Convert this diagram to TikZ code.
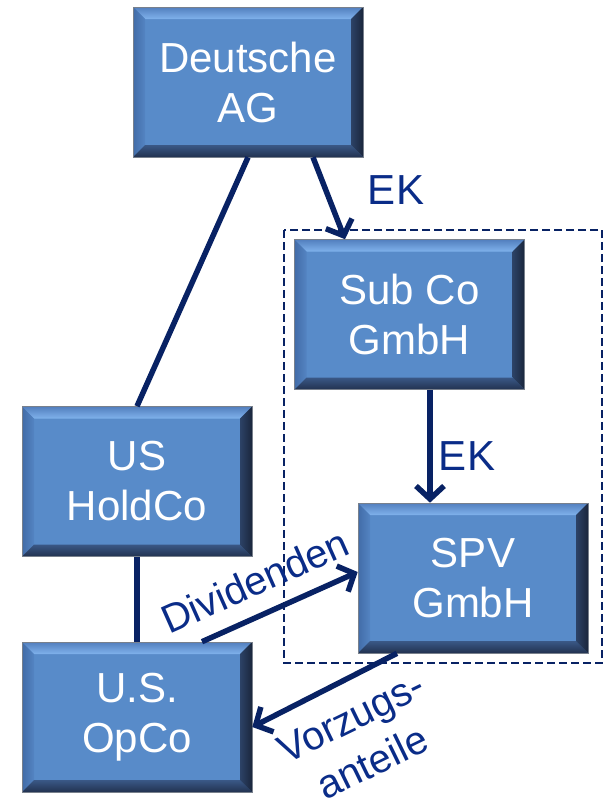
\documentclass[tikz,border=0pt]{standalone}
\usepackage{fontspec}
\setmainfont{Liberation Sans}
\usetikzlibrary{arrows.meta,calc}

\definecolor{face}{RGB}{88,139,201}
\definecolor{topout}{RGB}{82,127,190}
\definecolor{topin}{RGB}{128,178,236}
\definecolor{leftout}{RGB}{66,108,168}
\definecolor{leftin}{RGB}{84,132,194}
\definecolor{botin}{RGB}{58,88,134}
\definecolor{botout}{RGB}{34,50,80}
\definecolor{rightin}{RGB}{44,66,102}
\definecolor{rightout}{RGB}{26,38,60}
\definecolor{rim}{RGB}{120,128,140}
\definecolor{navy}{RGB}{8,34,100}
\definecolor{labelblue}{RGB}{10,44,136}

\newcommand{\bevw}{12pt}

\tikzset{
  entity/.style={
    minimum width=230pt, minimum height=150pt, inner sep=0pt,
    fill=face, draw=rim, line width=0.6pt,
    text=white, align=center, font=\fontsize{42}{50}\selectfont,
    path picture={
      \coordinate (@sw) at (path picture bounding box.south west);
      \coordinate (@se) at (path picture bounding box.south east);
      \coordinate (@nw) at (path picture bounding box.north west);
      \coordinate (@ne) at (path picture bounding box.north east);
      % top bevel
      \shade[top color=topout, bottom color=topin]
        (@nw) -- (@ne) -- ([xshift=-\bevw,yshift=-\bevw]@ne)
        -- ([xshift=\bevw,yshift=-\bevw]@nw) -- cycle;
      % left bevel
      \shade[left color=leftout, right color=leftin]
        (@nw) -- ([xshift=\bevw,yshift=-\bevw]@nw)
        -- ([xshift=\bevw,yshift=\bevw]@sw) -- (@sw) -- cycle;
      % bottom bevel
      \shade[top color=botin, bottom color=botout]
        (@sw) -- ([xshift=\bevw,yshift=\bevw]@sw)
        -- ([xshift=-\bevw,yshift=\bevw]@se) -- (@se) -- cycle;
      % right bevel
      \shade[left color=rightin, right color=rightout]
        (@ne) -- (@se) -- ([xshift=-\bevw,yshift=\bevw]@se)
        -- ([xshift=-\bevw,yshift=-\bevw]@ne) -- cycle;
    }
  },
  link/.style={draw=navy, line width=5.5pt},
  flow/.style={link, -{Straight Barb[length=13pt,width=28pt]}},
  tag/.style={text=labelblue, inner sep=0pt, align=center},
  group/.style={draw=navy, line width=2pt, dash pattern=on 8pt off 4pt}
}

\begin{document}
\begin{tikzpicture}[x=1pt,y=-1pt]
  \useasboundingbox (0,0) rectangle (608,806);

  % consolidated German group
  \draw[group] (284,230) rectangle (602,663);

  % entities
  \node[entity] (dag)  at (248,82)    {Deutsche\\AG};
  \node[entity] (sub)  at (409.5,314.5) {Sub Co\\GmbH};
  \node[entity] (hold) at (137,481.5) {US\\HoldCo};
  \node[entity] (spv)  at (473,578)   {SPV\\GmbH};
  \node[entity] (opco) at (137,717)   {U.S.\\OpCo};

  % ownership lines
  \draw[link] (dag.south) -- (hold.north);
  \draw[link] (hold.south) -- (opco.north);

  % capital and payment flows
  \draw[flow] ([xshift=65pt]dag.south) -- ([xshift=-64.5pt]sub.north);
  \draw[flow] ([xshift=20.5pt]sub.south) -- ([xshift=20.5pt]sub.south |- spv.north);
  \draw[flow] ([xshift=65pt]opco.north) -- ([yshift=6pt]spv.west);
  \draw[flow] ([xshift=-76pt]spv.south) -- ([yshift=-10pt]opco.east);

  % flow labels
  \node[tag, font=\fontsize{42}{50}\selectfont] (ek1) at (396,190) {EK};
  \node[tag, font=\fontsize{42}{50}\selectfont] (ek2) at (467,456) {EK};
  \node[tag, font=\fontsize{40}{50}\selectfont, rotate=24] (div) at (255,581) {Dividenden};
  \node[tag, font=\fontsize{40}{50}\selectfont, rotate=26] (vz) at (362,740) {Vorzugs-\\anteile};
\end{tikzpicture}
\end{document}
